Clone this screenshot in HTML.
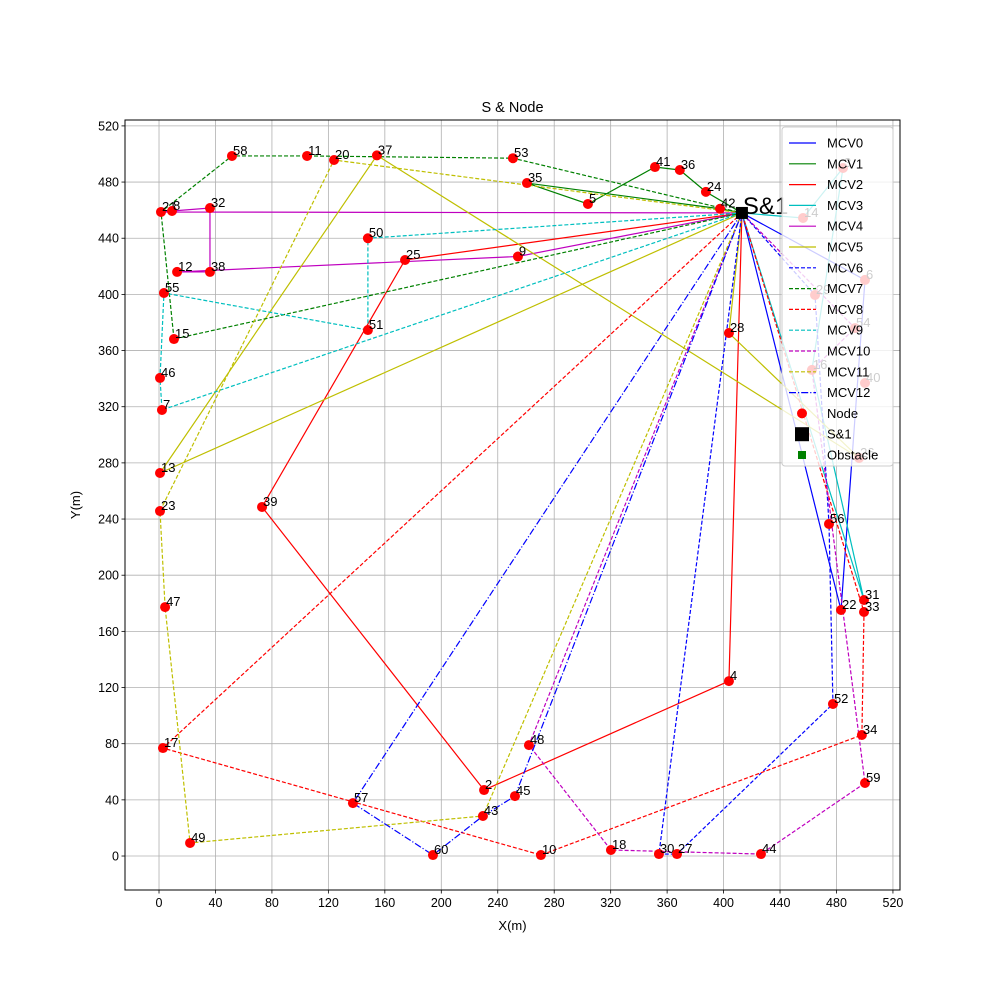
<!DOCTYPE html>
<html><head><meta charset="utf-8"><style>
body{margin:0;background:#fff;}
svg{display:block;font-family:"Liberation Sans","DejaVu Sans",sans-serif;}
</style></head><body>
<svg id="chart" width="1000" height="1000" xmlns="http://www.w3.org/2000/svg"></svg>
<script>
const xTicks=[0,40,80,120,160,200,240,280,320,360,400,440,480,520];
const yTicks=[0,40,80,120,160,200,240,280,320,360,400,440,480,520];
const depot=[413,458];
const nodeIds=[58,11,20,37,53,41,36,35,24,5,42,21,8,32,50,9,25,12,38,55,51,15,28,46,7,13,39,23,56,47,31,22,33,4,52,34,17,48,59,2,45,57,43,49,18,60,10,30,27,44,3,14,6,29,54,16,40,26];
const nodeX=[51.7,104.9,124,154.4,250.8,351.4,369,260.7,387.5,303.9,397.5,1.4,9.2,36.1,148,254.3,174.3,12.8,36.1,3.5,148,10.6,403.8,0.7,2.1,0.7,73,0.7,474.7,4.3,499.5,483.2,499.5,403.8,477.5,498,2.8,262.1,500.2,230.3,252.2,137.4,229.5,22,320.2,194.1,270.6,354.2,367,426.5,484.6,456.3,500.2,464.8,493.1,462.6,500.2,496];
const nodeY=[498.6,498.6,495.7,499,497,490.7,488.6,479.3,473,464.4,461,458.7,459.4,461.5,440,427,424.5,416,416,401,374.6,368.2,372.5,340.5,317.7,272.8,248.6,245.7,236.5,177.3,182.3,175.2,173.8,124.6,108.3,86.2,76.9,79,52,47,42.7,37.7,28.5,9.3,4.3,0.7,0.7,1.4,1.4,1.4,490,454.4,410.3,399.6,376,346.2,336.9,283.5];
const routeNames=["MCV0","MCV1","MCV2","MCV3","MCV4","MCV5","MCV6","MCV7","MCV8","MCV9","MCV10","MCV11","MCV12"];
const routeColors=["#0000ff","#008000","#ff0000","#00bfbf","#bf00bf","#bfbf00","#0000ff","#008000","#ff0000","#00bfbf","#bf00bf","#bfbf00","#0000ff"];
const routeDash=["","","","","","","4,2","4,2","4,2","4,2","4,2","4,2","7,2,1.2,2"];
const routes=[[6,22],[42,35,5,41,36,24],[4,2,39,25],[14,3,16,31],[9,12,38,32,8,21],[13,37,26,28],[29,56,52,27,30],[15,21,58,11,53],[17,10,34,33],[50,51,55,46,7],[48,18,44,59,16,54],[43,49,47,23,20],[57,60,43,45]];

const NS="http://www.w3.org/2000/svg";
const svg=document.getElementById('chart');
const L=125,R=900,T=120,B=890,X0=-24.1,X1=525,Y0=-24.2,Y1=524.2;
const sx=v=>L+(v-X0)/(X1-X0)*(R-L);
const sy=v=>B-(v-Y0)/(Y1-Y0)*(B-T);
function mk(tag,attrs,parent){const e=document.createElementNS(NS,tag);for(const k in attrs)e.setAttribute(k,attrs[k]);(parent||svg).appendChild(e);return e;}
function pt(id){if(id==='D')return depot;const i=nodeIds.indexOf(id);return [nodeX[i],nodeY[i]];}

const grid=mk('g',{});


xTicks.forEach(t=>{mk('line',{x1:sx(t),x2:sx(t),y1:T,y2:B,stroke:'#b0b0b0','stroke-width':0.8},grid);
 mk('line',{x1:sx(t),x2:sx(t),y1:B,y2:B+3.5,stroke:'#000','stroke-width':0.8},grid);
 const tx=mk('text',{x:sx(t),y:B+17,'font-size':12.5,'text-anchor':'middle'},grid);tx.textContent=t;
 
 });
yTicks.forEach(t=>{mk('line',{y1:sy(t),y2:sy(t),x1:L,x2:R,stroke:'#b0b0b0','stroke-width':0.8},grid);
 mk('line',{y1:sy(t),y2:sy(t),x1:L-3.5,x2:L,stroke:'#000','stroke-width':0.8},grid);
 const tx=mk('text',{x:L-6,y:sy(t)+4.5,'font-size':12.5,'text-anchor':'end'},grid);tx.textContent=t;
 
 });

routes.forEach((r,k)=>{
 const seq=['D',...r,'D'].map(pt);
 const pl=mk('polyline',{points:seq.map(p=>sx(p[0])+','+sy(p[1])).join(' '),fill:'none',stroke:routeColors[k],'stroke-width':1.2,'stroke-dasharray':routeDash[k]});
 
 
});

nodeIds.forEach((id,i)=>{
 const c=mk('circle',{cx:sx(nodeX[i]),cy:sy(nodeY[i]),r:5,fill:'#ff0000'});
 
 
 const t=mk('text',{x:sx(nodeX[i])+1,y:sy(nodeY[i])-1,'font-size':13});t.textContent=id;
 
 
});
const ds=mk('rect',{x:sx(depot[0])-6,y:sy(depot[1])-6,width:12,height:12,fill:'#000'});


const dt=mk('text',{x:sx(depot[0])+1,y:sy(depot[1])+1,'font-size':24});dt.textContent='S&1';



mk('rect',{x:L,y:T,width:R-L,height:B-T,fill:'none',stroke:'#000','stroke-width':1});
const title=mk('text',{x:(L+R)/2,y:112,'font-size':14.5,'text-anchor':'middle'});title.textContent='S & Node';


const xl=mk('text',{x:(L+R)/2,y:930,'font-size':13,'text-anchor':'middle'});xl.textContent='X(m)';


const yl=mk('text',{x:80,y:(T+B)/2,'font-size':13,'text-anchor':'middle',transform:'rotate(-90 80 '+((T+B)/2)+')'});yl.textContent='Y(m)';



const lg=mk('g',{});


mk('rect',{x:782,y:127,width:111,height:339,rx:3,fill:'#fff','fill-opacity':0.8,stroke:'#cccccc'},lg);
const step=20.8;
routeNames.forEach((n,k)=>{const y=143+k*step;
 mk('line',{x1:789,x2:816,y1:y,y2:y,stroke:routeColors[k],'stroke-width':1.2,'stroke-dasharray':routeDash[k]},lg);
 const t=mk('text',{x:827,y:y+4.5,'font-size':13},lg);t.textContent=n;
 
 });
let y=143+13*step;
mk('circle',{cx:802,cy:y,r:5,fill:'#ff0000'},lg);
let t=mk('text',{x:827,y:y+4.5,'font-size':13},lg);t.textContent='Node';
y+=step;mk('rect',{x:795,y:y-7,width:14,height:14,fill:'#000'},lg);
t=mk('text',{x:827,y:y+4.5,'font-size':13},lg);t.textContent='S&1';
y+=step;mk('rect',{x:798,y:y-4,width:8,height:8,fill:'#008000'},lg);
t=mk('text',{x:827,y:y+4.5,'font-size':13},lg);t.textContent='Obstacle';
</script>
</body></html>
